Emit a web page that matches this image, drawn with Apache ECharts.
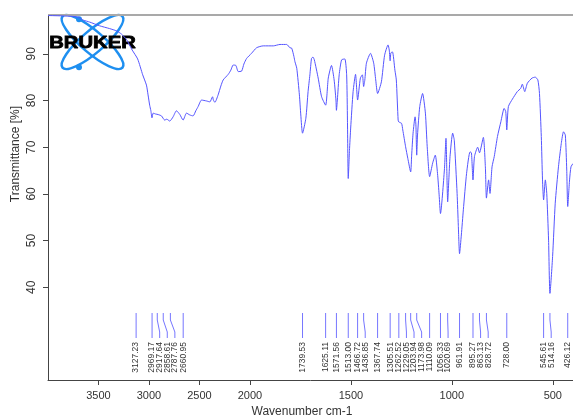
<!DOCTYPE html>
<html>
<head>
<meta charset="utf-8">
<script src="https://cdn.jsdelivr.net/npm/echarts@6/dist/echarts.min.js"></script>
<style>
  html, body { margin: 0; padding: 0; background: #fff; }
  #chart { width: 573px; height: 419px; }
</style>
</head>
<body>
<div id="chart"></div>
<script>
// IR spectrum: wavenumber (cm-1) and transmittance (%)
const wavenumbers = [
  4000, 3836, 3707, 3648, 3588, 3489, 3390, 3320, 3271, 3221, 3166, 3112, 3062, 3025, 3009, 2993,
  2981, 2970, 2958, 2933, 2910, 2876, 2844, 2824, 2794, 2761, 2728, 2694, 2662, 2628, 2595, 2563,
  2536, 2513, 2479, 2430, 2397, 2370, 2362, 2347, 2315, 2288, 2265, 2215, 2189, 2166, 2139, 2116,
  2082, 2060, 2033,
  1992, 1967, 1934, 1884, 1851, 1818, 1802, 1793, 1782, 1777, 1768, 1755, 1748, 1739.5, 1723, 1712,
  1703, 1695, 1688, 1681, 1662, 1645, 1625, 1612, 1596, 1583, 1574, 1571.6, 1567, 1558, 1546, 1530,
  1521, 1517, 1513, 1507, 1501, 1489, 1477, 1466.7, 1453, 1443, 1436.9, 1431, 1423, 1403, 1387, 1377,
  1367.7, 1349, 1333, 1316, 1310, 1305.5, 1302, 1294, 1282, 1275, 1266, 1262.5, 1249, 1243, 1229, 1218,
  1203.9, 1199, 1192, 1182, 1178, 1174, 1170, 1159, 1145, 1131, 1122, 1110, 1095, 1082, 1071, 1063,
  1056.3, 1037, 1029, 1025, 1020.7, 1015, 1009, 996, 988, 974, 968, 961.9, 953, 943, 927, 910,
  903, 895.3, 888, 872, 863.1, 844, 834, 828.7, 818, 811, 801, 790, 774, 757, 741, 733,
  728, 720, 700, 676, 659, 651, 639, 626, 603, 587, 574, 566, 557, 551, 545.6, 537,
  530, 521, 514.2, 501, 488, 472, 458, 447, 438, 431, 426.1, 417, 410, 400
];
const transmittance = [
  98.2, 98.1, 97.9, 97.2, 96.8, 96.0, 95.4, 94.9, 94.2, 93.0, 90.8, 88.9, 85.5, 83.3, 81.2, 79.0,
  77.8, 76.3, 77.3, 77.1, 77.0, 76.7, 75.8, 76.0, 75.6, 76.5, 77.8, 77.0, 75.8, 77.3, 76.9, 76.7,
  77.8, 78.7, 80.1, 79.9, 79.7, 80.8, 80.1, 79.6, 81.2, 83.1, 84.4, 85.6, 86.5, 87.6, 87.5, 86.2,
  86.3, 87.8, 89.0,
  90.1, 91.3, 91.7, 91.7, 92.0, 92.0, 91.3, 91.2, 89.4, 88.3, 86.9, 81.2, 76.9, 73.0, 76.2, 81.9,
  85.5, 89.0, 89.3, 88.7, 84.8, 80.8, 79.0, 84.8, 87.5, 84.4, 80.1, 77.9, 80.1, 85.5, 88.7, 88.9,
  85.5, 75.8, 63.3, 69.3, 74.1, 81.9, 85.6, 80.1, 84.8, 85.5, 83.0, 84.4, 88.0, 90.1, 88.0, 84.4,
  81.5, 84.0, 89.7, 91.9, 90.8, 88.5, 90.2, 90.4, 86.5, 84.4, 75.8, 75.4, 75.1, 73.7, 70.1, 67.6,
  64.7, 68.3, 73.0, 76.5, 74.8, 68.3, 72.6, 78.7, 81.5, 77.3, 70.1, 63.7, 66.6, 68.3, 64.4, 59.8,
  55.8, 65.1, 71.9, 65.1, 58.3, 63.0, 68.0, 73.0, 71.5, 60.1, 53.3, 47.2, 51.2, 56.6, 64.4, 69.0,
  68.8, 63.0, 68.0, 70.0, 68.8, 72.1, 65.8, 59.1, 63.0, 60.1, 65.8, 68.0, 72.3, 75.5, 78.3, 77.6,
  73.7, 78.7, 80.3, 81.9, 82.6, 83.5, 81.9, 83.7, 84.8, 85.0, 84.4, 81.5, 72.3, 63.0, 58.7, 63.0,
  60.1, 50.1, 38.7, 46.6, 58.0, 65.8, 70.8, 73.3, 72.6, 65.1, 57.3, 63.0, 65.8, 66.5
];
// Picked peak positions (cm-1)
const peakPositions = [
  3127.23, 2969.17, 2917.64, 2858.61, 2787.76, 2660.95, 1739.53, 1625.11, 1571.56, 1513.00,
  1466.72, 1436.85, 1367.74, 1305.51, 1262.52, 1229.05, 1203.94, 1173.98, 1110.09, 1056.33,
  1020.69, 961.91, 895.27, 863.13, 828.72, 728.00, 545.61, 514.16, 426.12
];
const xTickLabels = [3500, 3000, 2500, 2000, 1500, 1000, 500];
const yTickLabels = [40, 50, 60, 70, 80, 90];

// Scale break at 2000 cm-1: the 4000-2000 range is drawn at half the density of 2000-400
function toAxis(w) { return w >= 2000 ? (4000 - w) / 2 : 1000 + (2000 - w); }
function fromAxis(u) { return u <= 1000 ? 4000 - 2 * u : 3000 - u; }

const Y_MIN = 20.15, Y_MAX = 98.31;
const FONT = "'Liberation Sans', Arial, Helvetica, sans-serif";
const LABEL_GAP = 7.6;

// Spread crowded peak labels to the right so they do not overlap
function peakLabelXs(api) {
  const out = [];
  peakPositions.forEach(function (w, i) {
    const x = api.coord([toAxis(w), Y_MIN])[0];
    out.push(i === 0 ? x : Math.max(x, out[i - 1] + LABEL_GAP));
  });
  return out;
}

function renderPeak(params, api) {
  const i = params.dataIndex;
  const lx = peakLabelXs(api);
  const base = api.coord([toAxis(peakPositions[i]), Y_MIN]);
  const x = base[0];
  const top = base[1] - 67;
  const x2 = lx[i];
  return {
    type: 'group',
    children: [
      {
        type: 'polyline',
        shape: { points: [[x, top], [x, top + 7], [x2, top + 19], [x2, top + 25]] },
        style: { stroke: '#7676ff', lineWidth: 1, fill: null }
      },
      {
        type: 'text',
        x: x2,
        y: top + 29,
        rotation: Math.PI / 2,
        style: {
          text: peakPositions[i].toFixed(2),
          align: 'right',
          verticalAlign: 'middle',
          fontSize: 8.5,
          fontFamily: FONT,
          fill: '#333'
        }
      }
    ]
  };
}

const chart = echarts.init(document.getElementById('chart'), null, { renderer: 'canvas' });

const option = {
  animation: false,
  backgroundColor: '#fff',
  grid: { left: 48, right: 0, top: 15, bottom: 39 },
  xAxis: {
    type: 'value',
    min: 0,
    max: 2600,
    axisLine: { lineStyle: { color: '#444', width: 1 } },
    axisTick: { customValues: xTickLabels.map(toAxis), length: 5, lineStyle: { color: '#444' } },
    axisLabel: {
      customValues: xTickLabels.map(toAxis),
      formatter: function (v) { return String(Math.round(fromAxis(v))); },
      fontSize: 11,
      fontFamily: FONT,
      color: '#333',
      margin: 10
    },
    splitLine: { show: false }
  },
  yAxis: {
    type: 'value',
    min: Y_MIN,
    max: Y_MAX,
    axisLine: { show: true, lineStyle: { color: '#444', width: 1 } },
    axisTick: { show: true, customValues: yTickLabels, length: 5, lineStyle: { color: '#444' } },
    axisLabel: {
      customValues: yTickLabels,
      rotate: 90,
      fontSize: 12,
      fontFamily: FONT,
      color: '#333',
      margin: 10
    },
    splitLine: { show: false }
  },
  series: [
    {
      type: 'line',
      data: wavenumbers.map(function (w, i) { return [toAxis(w), transmittance[i]]; }),
      showSymbol: false,
      smooth: 0.2,
      lineStyle: { color: '#5555ff', width: 1 },
      z: 3
    },
    {
      type: 'custom',
      data: peakPositions.map(function (w) { return [toAxis(w), Y_MIN]; }),
      encode: { x: 0, y: 1 },
      renderItem: renderPeak,
      clip: false,
      silent: true,
      z: 2
    }
  ],
  graphic: [
    {
      type: 'line',
      shape: { x1: 48, y1: 15, x2: 573, y2: 15 },
      style: { stroke: '#a9a9a9', lineWidth: 2 },
      z: 1
    },
    {
      type: 'text',
      x: 16,
      y: 154,
      rotation: Math.PI / 2,
      style: {
        text: 'Transmittance [%]',
        align: 'center',
        verticalAlign: 'middle',
        fontSize: 12,
        fontFamily: FONT,
        fill: '#333'
      }
    },
    {
      type: 'text',
      x: 302,
      y: 406,
      style: {
        text: 'Wavenumber cm-1',
        align: 'center',
        verticalAlign: 'top',
        fontSize: 12,
        fontFamily: FONT,
        fill: '#333'
      }
    },
    {
      type: 'group',
      x: 92.5,
      y: 42,
      z: 10,
      children: [
        {
          type: 'ellipse',
          rotation: -0.708,
          shape: { cx: 0, cy: 0, rx: 39.5, ry: 11 },
          style: { stroke: '#1e8ff0', lineWidth: 2.5, fill: null }
        },
        {
          type: 'ellipse',
          rotation: 0.708,
          shape: { cx: 0, cy: 0, rx: 39.5, ry: 11 },
          style: { stroke: '#1e8ff0', lineWidth: 2.5, fill: null }
        },
        { type: 'circle', shape: { cx: -13.5, cy: -22.7, r: 3 }, style: { fill: '#1e8ff0' } },
        { type: 'circle', shape: { cx: -13.5, cy: 25.3, r: 3 }, style: { fill: '#1e8ff0' } },
        {
          type: 'text',
          x: 0,
          y: 1.3,
          scaleX: 1.19,
          style: {
            text: 'BRUKER',
            align: 'center',
            verticalAlign: 'middle',
            fontSize: 17,
            fontWeight: 'bold',
            fontFamily: FONT,
            fill: '#000',
            stroke: '#000',
            lineWidth: 0.8
          }
        }
      ]
    }
  ]
};

chart.setOption(option);
</script>
</body>
</html>
